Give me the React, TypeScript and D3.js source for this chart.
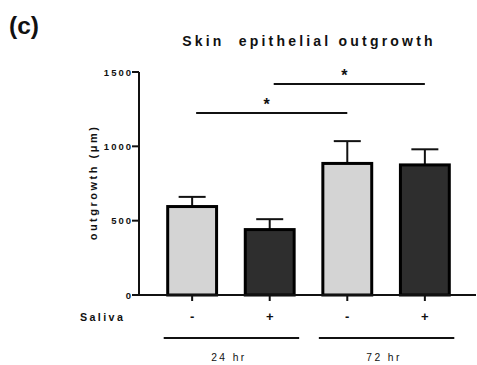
import React from "react";
import * as d3 from "d3";

const categories = ["24hr-", "24hr+", "72hr-", "72hr+"];
const salivaSigns = ["-", "+", "-", "+"];
const means = [595, 440, 885, 875];
const sems = [65, 70, 150, 105];
const fills = ["#d4d4d4", "#2e2e2e", "#d4d4d4", "#2e2e2e"];
const yTicks = [0, 500, 1000, 1500];
const groupLabels = ["24 hr", "72 hr"];
const groupMembers = [
  [0, 1],
  [2, 3],
];
const sigFrom = [0, 1];
const sigTo = [2, 3];
const sigLevel = [1225, 1420];

const FONT = "'Liberation Sans', Arial, sans-serif";

export default function App() {
  const width = 477;
  const height = 365;
  const axisX = 139;
  const y0 = 295;

  const x = d3.scaleBand().domain(categories).range([axisX, 478]).padding(0.37);
  const y = d3.scaleLinear().domain([0, 1500]).range([y0, 72]);
  const bw = x.bandwidth();
  const cx = (i: number) => (x(categories[i]) as number) + bw / 2;

  return (
    <svg
      width={width}
      height={height}
      style={{ position: "absolute", left: 0, top: 0, background: "#fff" }}
      fontFamily={FONT}
    >
      <text x={9} y={34} fontSize={24.5} fontWeight="bold" fill="#111">
        (c)
      </text>
      <text
        x={309}
        y={46}
        textAnchor="middle"
        fontSize={14}
        fontWeight="bold"
        letterSpacing={3.2}
        fill="#111"
        style={{ whiteSpace: "pre" }}
      >
        {"Skin  epithelial outgrowth"}
      </text>

      {/* y axis */}
      <line x1={axisX} x2={axisX} y1={y(1500)} y2={y0} stroke="#111" strokeWidth={2} />
      {yTicks.map((t) => (
        <g key={t}>
          <line x1={axisX - 7} x2={axisX} y1={y(t)} y2={y(t)} stroke="#111" strokeWidth={2} />
          <text
            x={axisX - 6}
            y={y(t) + 3.5}
            textAnchor="end"
            fontSize={9.5}
            fontWeight="bold"
            letterSpacing={2}
            fill="#111"
          >
            {t}
          </text>
        </g>
      ))}
      <text
        transform={`translate(97, ${(y(0) + y(1500)) / 2 - 1}) rotate(-90)`}
        textAnchor="middle"
        fontSize={11}
        fontWeight="bold"
        letterSpacing={2.5}
        fill="#111"
      >
        outgrowth (μm)
      </text>

      {/* bars */}
      {means.map((m, i) => (
        <g key={categories[i]}>
          <line x1={cx(i)} x2={cx(i)} y1={y(m)} y2={y(m + sems[i])} stroke="#111" strokeWidth={2} />
          <line
            x1={cx(i) - 13.5}
            x2={cx(i) + 13.5}
            y1={y(m + sems[i])}
            y2={y(m + sems[i])}
            stroke="#111"
            strokeWidth={2}
          />
          <rect
            x={x(categories[i])}
            y={y(m)}
            width={bw}
            height={y0 - y(m)}
            fill={fills[i]}
            stroke="#000"
            strokeWidth={3}
          />
        </g>
      ))}

      {/* x axis */}
      <line x1={axisX - 1} x2={476} y1={y0} y2={y0} stroke="#111" strokeWidth={2} />
      {categories.map((c, i) => (
        <line key={c} x1={cx(i)} x2={cx(i)} y1={y0} y2={y0 + 6} stroke="#111" strokeWidth={2} />
      ))}
      <text x={80} y={321} fontSize={10.7} fontWeight="bold" letterSpacing={2.4} fill="#111">
        Saliva
      </text>
      {salivaSigns.map((s, i) => (
        <text
          key={i}
          x={cx(i)}
          y={321}
          textAnchor="middle"
          fontSize={13}
          fontWeight="bold"
          fill="#111"
        >
          {s}
        </text>
      ))}

      {/* group labels */}
      {groupLabels.map((g, gi) => {
        const a = x(categories[groupMembers[gi][0]]) as number;
        const b = (x(categories[groupMembers[gi][1]]) as number) + bw;
        return (
          <g key={g}>
            <line x1={a - 4} x2={b + 5} y1={338} y2={338} stroke="#111" strokeWidth={2} />
            <text
              x={(a + b) / 2 - 2}
              y={361}
              textAnchor="middle"
              fontSize={10.3}
              letterSpacing={2.4}
              fill="#111"
            >
              {g}
            </text>
          </g>
        );
      })}

      {/* significance */}
      {sigFrom.map((f, k) => {
        const a = cx(f);
        const b = cx(sigTo[k]);
        const yy = y(sigLevel[k]);
        return (
          <g key={k}>
            <line x1={a + 4} x2={b} y1={yy} y2={yy} stroke="#111" strokeWidth={2} />
            <text x={(a + b) / 2 - 3} y={yy - 3} textAnchor="middle" fontSize={16} fontWeight="bold" fill="#111">
              *
            </text>
          </g>
        );
      })}
    </svg>
  );
}
